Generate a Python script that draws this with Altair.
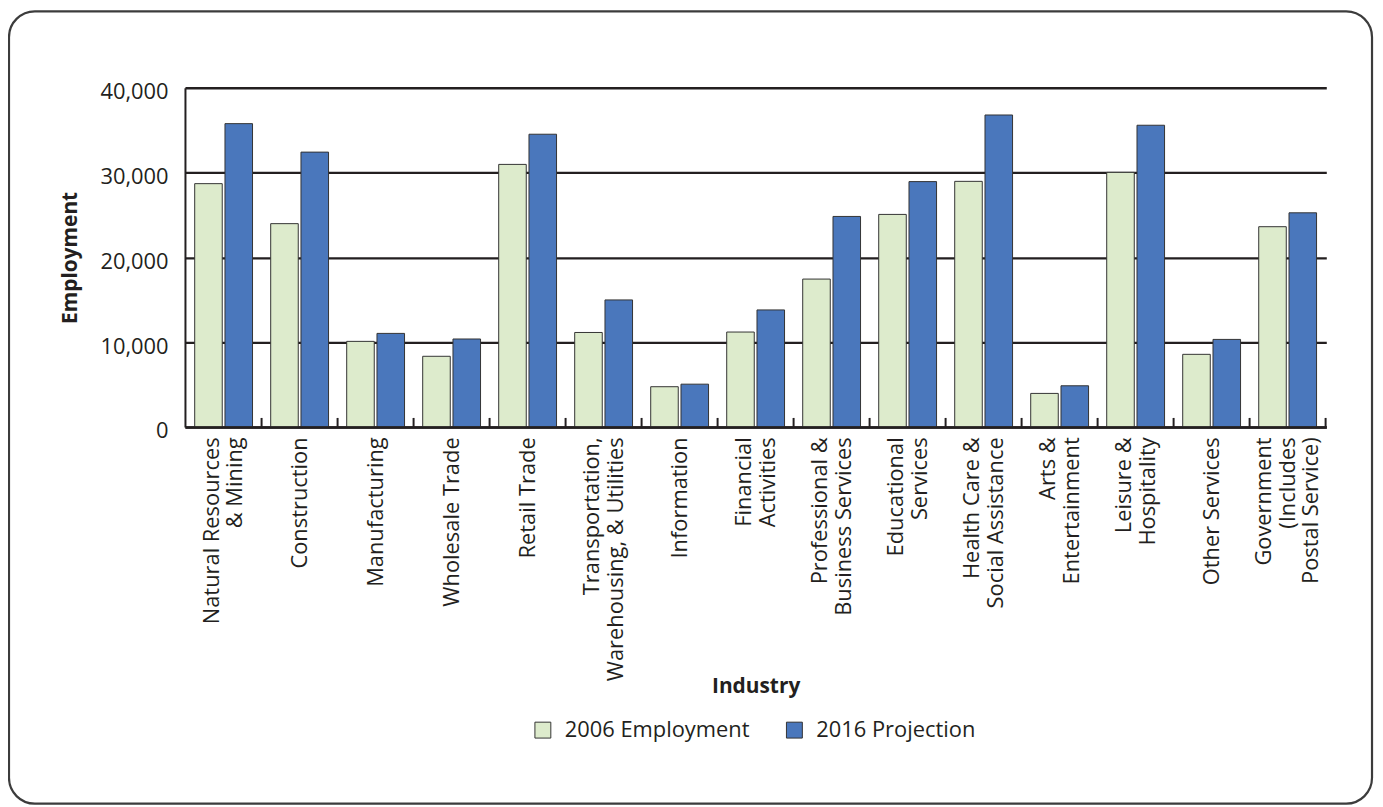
import altair as alt
import pandas as pd

industries = [
    "Natural Resources|& Mining", "Construction", "Manufacturing", "Wholesale Trade",
    "Retail Trade", "Transportation,|Warehousing, & Utilities", "Information",
    "Financial|Activities", "Professional &|Business Services", "Educational|Services",
    "Health Care &|Social Assistance", "Arts &|Entertainment", "Leisure &|Hospitality",
    "Other Services", "Government|(Includes|Postal Service)",
]
series = ["2006 Employment", "2016 Projection"]
emp_2006 = [28700, 23980, 10090, 8330, 30970, 11140, 4740, 11190, 17440, 25070, 28970, 3950, 30030, 8560, 23620]
proj_2016 = [35780, 32420, 11030, 10370, 34530, 14980, 5040, 13800, 24830, 28940, 36800, 4850, 35590, 10320, 25260]
y_ticks = [0, 10000, 20000, 30000, 40000]

rows = []
for i, ind in enumerate(industries):
    rows.append({"industry": ind, "series": series[0], "value": emp_2006[i]})
    rows.append({"industry": ind, "series": series[1], "value": proj_2016[i]})
df = pd.DataFrame(rows)

FONT = "Open Sans"
INK = "#231f20"
W, H = 1148, 341
PAD = {"left": 178, "top": 78, "right": 49, "bottom": 380}
LH = 24

xscale = alt.Scale(paddingInner=0.239, paddingOuter=0.128)

label_shift = {
    "condition": [
        {"test": "length(split(datum.label, '|')) == 3", "value": -LH},
        {"test": "length(split(datum.label, '|')) == 2", "value": -LH / 2},
    ],
    "value": 0,
}

border = alt.Chart(pd.DataFrame({"k": [0]})).mark_rect(
    fill="white", fillOpacity=0, stroke="#3c3c3c", strokeWidth=2.2, cornerRadius=26
).encode(
    x=alt.value(-177), x2=alt.value(1194), y=alt.value(-77), y2=alt.value(720)
)

bars = alt.Chart(df).mark_bar(stroke="#333333", strokeWidth=1).encode(
    x=alt.X(
        "industry:N", sort=industries, scale=xscale,
        axis=alt.Axis(
            title="Industry", labelExpr="split(datum.label, '|')", labelAngle=270,
            ticks=False, tickSize=0, labelPadding=10, labelLineHeight=LH,
            labelOffset=label_shift,
            labelFontSize=22, labelFont=FONT, labelColor=INK, labelLimit=500,
            titleFontSize=21, titleFont=FONT, titleFontWeight="bold", titleColor=INK,
            titleY=250, titleBaseline="top",
            domainColor=INK, domainWidth=2.5, zindex=1,
            labelOverlap=False, labelBound=False, labelFlush=False,
        ),
    ),
    xOffset=alt.XOffset("series:N", sort=series, scale=alt.Scale(paddingInner=0.09, paddingOuter=0)),
    y=alt.Y(
        "value:Q", scale=alt.Scale(domain=[0, 40000]),
        axis=alt.Axis(
            title="Employment", values=y_ticks, format=",d", ticks=False, tickSize=0,
            grid=True, gridColor=INK, gridWidth=2.5, domainColor=INK, domainWidth=2,
            labelFontSize=22, labelFont=FONT, labelColor=INK, labelPadding=17, labelOffset=4,
            titleFontSize=21, titleFont=FONT, titleFontWeight="bold", titleColor=INK,
            titlePadding=20,
        ),
    ),
    color=alt.Color(
        "series:N", sort=series,
        scale=alt.Scale(domain=series, range=["#ddebcc", "#4a77bc"]),
        legend=alt.Legend(
            title=None, orient="none", legendX=349, legendY=635, direction="horizontal",
            symbolType="square", symbolSize=256, symbolStrokeColor="#333333",
            symbolStrokeWidth=1, labelFontSize=22, labelFont=FONT, labelColor=INK,
            labelOffset=11, columnPadding=34, padding=0, labelLimit=400,
        ),
    ),
)

ticks = alt.Chart(pd.DataFrame({"industry": industries})).mark_rule(
    color=INK, strokeWidth=2, xOffset=9.1
).encode(
    x=alt.X("industry:N", sort=industries, bandPosition=1),
    y=alt.value(H), y2=alt.value(H - 9),
)

chart = alt.layer(border, bars, ticks).properties(
    width=W, height=H,
    autosize=alt.AutoSizeParams(type="none"),
    padding=PAD,
).configure_view(strokeWidth=0)

chart.save("out.html", embed_options={"renderer": "svg", "actions": False})
